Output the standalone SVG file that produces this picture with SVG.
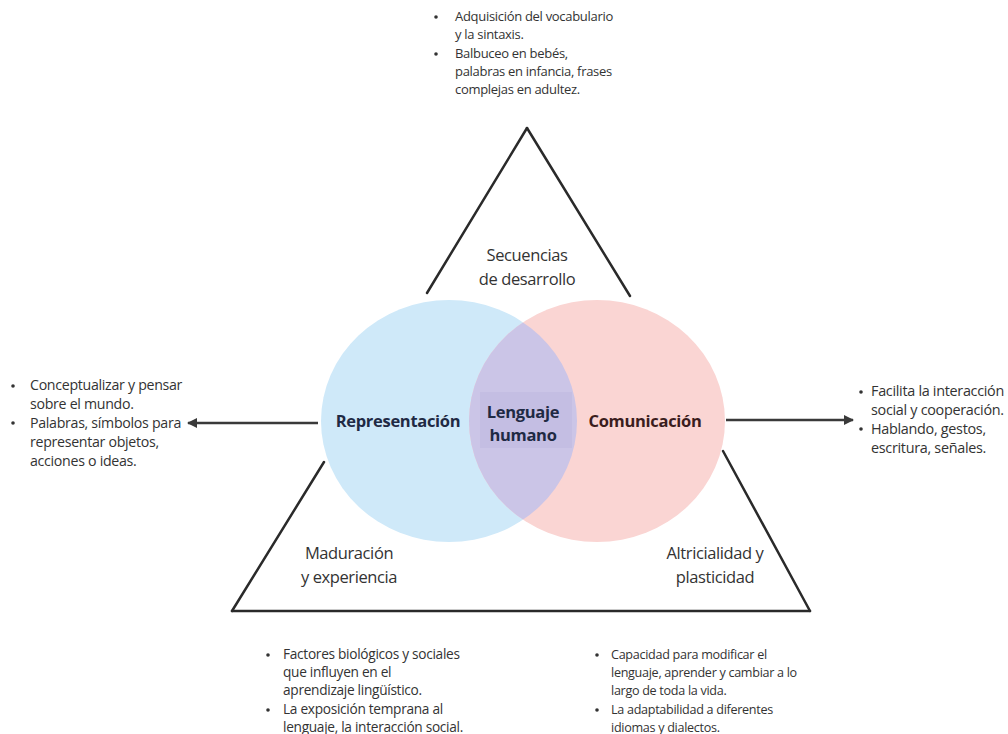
<svg xmlns="http://www.w3.org/2000/svg" width="1008" height="734" viewBox="0 0 1008 734">
<style>
.body{font-family:"Open Sans","Liberation Sans",sans-serif;font-size:12.5px;fill:#333;letter-spacing:-0.3px}
.lbl{font-family:"Open Sans","Liberation Sans",sans-serif;font-size:16.5px;fill:#333;text-anchor:middle;letter-spacing:-0.4px}
.bold{font-family:"Open Sans","Liberation Sans",sans-serif;font-size:16.5px;font-weight:bold;text-anchor:middle;letter-spacing:-0.3px}
.tri{stroke:#2a2a2a;stroke-width:2.5;fill:none;stroke-linecap:round}
.arr{stroke:#3a3a3a;stroke-width:2.5;fill:none}
.dot{fill:#333}
</style>
<defs>
<marker id="ah" viewBox="0 0 10 10" refX="9" refY="5" markerWidth="4" markerHeight="4" orient="auto-start-reverse" markerUnits="strokeWidth">
<path d="M0,0 L10,5 L0,10 z" fill="#3a3a3a"/>
</marker>
<clipPath id="clipL"><ellipse cx="449" cy="421" rx="128" ry="121"/></clipPath>
</defs>
<rect width="1008" height="734" fill="#fff"/>
<g id="triangle">
<line class="tri" x1="527" y1="128" x2="427" y2="293"/>
<line class="tri" x1="527" y1="128" x2="630" y2="296"/>
<line class="tri" x1="324" y1="462" x2="232" y2="611"/>
<line class="tri" x1="723" y1="451" x2="810" y2="611"/>
<line class="tri" x1="232" y1="611" x2="810" y2="611" stroke="#3a2b2b"/>
</g>
<g id="connectors">
<line class="arr" x1="318" y1="423" x2="188" y2="423" marker-end="url(#ah)"/>
<line class="arr" x1="726" y1="420" x2="853" y2="420" marker-end="url(#ah)"/>
</g>
<g id="representacion">
<ellipse cx="449" cy="421" rx="128" ry="121" fill="#cfe9f9"/>
</g>
<g id="comunicacion">
<ellipse cx="597" cy="421" rx="128" ry="121" fill="#fad5d3"/>
</g>
<g id="lenguaje-humano">
<ellipse cx="597" cy="421" rx="128" ry="121" fill="#cbc5e7" clip-path="url(#clipL)"/>
<rect x="480" y="392" width="92" height="56" fill="#c4bee3"/>
<text class="bold" x="523" y="418" fill="#1f2a44">Lenguaje</text>
<text class="bold" x="523" y="441" fill="#1f2a44">humano</text>
</g>
<text class="bold" x="398" y="427" fill="#1f2a44">Representación</text>
<text class="bold" x="645" y="427" fill="#3b1d1d">Comunicación</text>
<g id="labels">
<text class="lbl" x="527" y="261">Secuencias</text>
<text class="lbl" x="527" y="285">de desarrollo</text>
<text class="lbl" x="349" y="559">Maduración</text>
<text class="lbl" x="349" y="583">y experiencia</text>
<text class="lbl" x="715" y="559">Altricialidad y</text>
<text class="lbl" x="715" y="583">plasticidad</text>
</g>
<g id="notes-top" class="body" style="font-size:13px">
<circle class="dot" cx="436" cy="17" r="1.8"/><text x="455" y="21">Adquisición del vocabulario</text>
<text x="455" y="39">y la sintaxis.</text>
<circle class="dot" cx="436" cy="54" r="1.8"/><text x="455" y="58">Balbuceo en bebés,</text>
<text x="455" y="76">palabras en infancia, frases</text>
<text x="455" y="94">complejas en adultez.</text>
</g>
<g id="notes-left" class="body" style="font-size:14.2px">
<circle class="dot" cx="13" cy="386" r="1.8"/><text x="30" y="390">Conceptualizar y pensar</text>
<text x="30" y="409">sobre el mundo.</text>
<circle class="dot" cx="13" cy="423" r="1.8"/><text x="30" y="428">Palabras, símbolos para</text>
<text x="30" y="447">representar objetos,</text>
<text x="30" y="466">acciones o ideas.</text>
</g>
<g id="notes-right" class="body" style="font-size:14.4px">
<circle class="dot" cx="861" cy="392" r="1.8"/><text x="871" y="396">Facilita la interacción</text>
<text x="871" y="415">social y cooperación.</text>
<circle class="dot" cx="861" cy="429" r="1.8"/><text x="871" y="434">Hablando, gestos,</text>
<text x="871" y="453">escritura, señales.</text>
</g>
<g id="notes-bottom-left" class="body" style="font-size:13.7px">
<circle class="dot" cx="268" cy="655" r="1.8"/><text x="283" y="659">Factores biológicos y sociales</text>
<text x="283" y="677">que influyen en el</text>
<text x="283" y="695">aprendizaje lingüístico.</text>
<circle class="dot" cx="268" cy="710" r="1.8"/><text x="283" y="714">La exposición temprana al</text>
<text x="283" y="732">lenguaje, la interacción social.</text>
</g>
<g id="notes-bottom-right" class="body" style="font-size:12.6px">
<circle class="dot" cx="597" cy="655" r="1.8"/><text x="611" y="659">Capacidad para modificar el</text>
<text x="611" y="677">lenguaje, aprender y cambiar a lo</text>
<text x="611" y="695">largo de toda la vida.</text>
<circle class="dot" cx="597" cy="710" r="1.8"/><text x="611" y="714">La adaptabilidad a diferentes</text>
<text x="611" y="732">idiomas y dialectos.</text>
</g>
</svg>
